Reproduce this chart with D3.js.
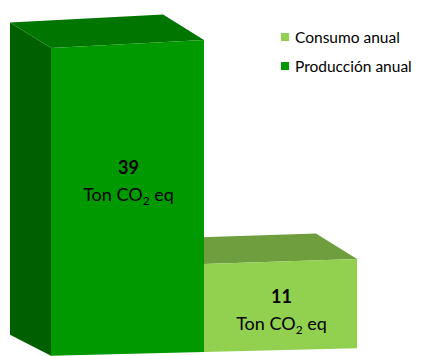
<!DOCTYPE html>
<html>
<head>
<meta charset="utf-8">
<script src="https://cdn.jsdelivr.net/npm/d3@7"></script>
<style>
  html, body { margin: 0; padding: 0; background: #ffffff; }
  svg { display: block; font-family: Lato, "Open Sans", sans-serif; }
</style>
</head>
<body>
<svg id="chart" width="424" height="356"></svg>
<script>
// Annual CO2 balance, tons of CO2 equivalent
const categories = ["Producción anual", "Consumo anual"];
const values = [39, 11];
const unitLabel = "Ton CO";
const unitSub = "2";
const unitTail = " eq";
const legendItems = ["Consumo anual", "Producción anual"];

const palette = {
  "Producción anual": { front: "#009900", top: "#007500", side: "#006000" },
  "Consumo anual":    { front: "#92D050", top: "#6E9E3E", side: "#5E8A32" }
};

// vertical nudge of each value label from the middle of its front face
const labelShift = { "Producción anual": -19, "Consumo anual": 3 };

const svg = d3.select("#chart");

// Horizontal placement of the bar front faces
const x = d3.scaleBand().domain(categories).range([51, 357]).paddingInner(0).paddingOuter(0);

// Bar height in pixels along the front plane
const h = d3.scaleLinear().domain([0, 39]).range([0, 312]);

// Slight perspective: baseline tilts upward to the right and heights grow slowly
const refX = 204;
const baseY = xp => 352 - 0.025 * (xp - refX);
const grow = xp => 1 + 0.00009 * (xp - refX);
const project = (xp, v) => [xp, baseY(xp) - h(v) * grow(xp)];

// Depth offsets of the box (toward the upper left)
const depthTop = [-41, -25.5];
const depthBase = [-41, -21];
const shift = (p, d) => [p[0] + d[0], p[1] + d[1]];

const line = d3.line();

function drawBar(cat, v) {
  const c = palette[cat];
  const x0 = x(cat), x1 = x(cat) + x.bandwidth();
  const fbl = project(x0, 0), fbr = project(x1, 0);
  const ftl = project(x0, v), ftr = project(x1, v);
  const btl = shift(ftl, depthTop), btr = shift(ftr, depthTop);
  const bbl = shift(fbl, depthBase);
  const g = svg.append("g").attr("class", "bar");
  // left side
  g.append("path").attr("d", line([fbl, ftl, btl, bbl]) + "Z").attr("fill", c.side);
  // top
  g.append("path").attr("d", line([ftl, ftr, btr, btl]) + "Z").attr("fill", c.top);
  // front
  g.append("path").attr("d", line([fbl, fbr, ftr, ftl]) + "Z").attr("fill", c.front);

  // value label on the front face
  const cx = (x0 + x1) / 2 + 1;
  const midY = (project(cx, v)[1] + project(cx, 0)[1]) / 2 + labelShift[cat];
  g.append("text")
    .attr("x", cx).attr("y", midY - 6)
    .attr("text-anchor", "middle")
    .attr("font-size", 18).attr("font-weight", "bold").attr("fill", "#000")
    .text(v);
  const t = g.append("text")
    .attr("x", cx).attr("y", midY + 21)
    .attr("text-anchor", "middle")
    .attr("font-size", 18).attr("fill", "#000");
  t.append("tspan").text(unitLabel);
  t.append("tspan").attr("font-size", 12).attr("dy", 4).text(unitSub);
  t.append("tspan").attr("dy", -4).text(unitTail);
}

// back bar first so the taller bar covers it
const order = [1, 0];
order.forEach(i => drawBar(categories[i], values[i]));

// legend
const legend = svg.append("g").attr("transform", "translate(281,33)");
legendItems.forEach((name, i) => {
  const row = legend.append("g").attr("transform", `translate(0,${i * 29})`);
  row.append("rect").attr("width", 8).attr("height", 8).attr("fill", palette[name].front);
  row.append("text").attr("x", 14).attr("y", 9.5)
    .attr("font-size", 15.5).attr("fill", "#000").text(name);
});
</script>
</body>
</html>
